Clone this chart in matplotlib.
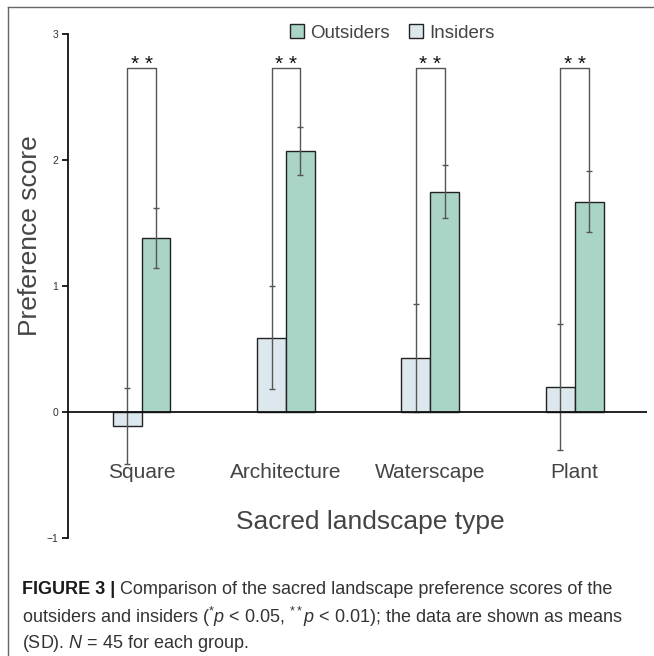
import matplotlib.pyplot as plt
from matplotlib.lines import Line2D
from matplotlib.patches import Patch

plt.rcParams['font.family'] = ['Liberation Sans', 'DejaVu Sans']
plt.rcParams['mathtext.fontset'] = 'custom'
plt.rcParams['mathtext.rm'] = 'Liberation Sans'
plt.rcParams['mathtext.it'] = 'Liberation Sans:italic'
plt.rcParams['mathtext.bf'] = 'Liberation Sans:bold'

categories = ['Square', 'Architecture', 'Waterscape', 'Plant']
outsiders_mean = [1.38, 2.07, 1.75, 1.67]
outsiders_sd = [0.24, 0.19, 0.21, 0.245]
insiders_mean = [-0.11, 0.59, 0.43, 0.20]
insiders_sd = [0.30, 0.41, 0.43, 0.50]
signif = ['* *', '* *', '* *', '* *']
bracket_y = 2.73

fig = plt.figure(figsize=(6.54, 6.56), dpi=100)
ax = fig.add_axes([0.104, 0.180, 0.885, 0.768])

w = 0.2
xs = list(range(len(categories)))
x_in = [x - w / 2 for x in xs]
x_out = [x + w / 2 for x in xs]

green = '#a9d4c6'
blue = '#dde7ee'
err_kw = dict(ecolor='#555555', elinewidth=1, capsize=2, capthick=1)

ax.bar(x_in, insiders_mean, w, color=blue, edgecolor='#222222', linewidth=1, zorder=2)
ax.bar(x_out, outsiders_mean, w, color=green, edgecolor='#222222', linewidth=1, zorder=2)
ax.errorbar(x_in, insiders_mean, yerr=insiders_sd, fmt='none', zorder=3, **err_kw)
ax.errorbar(x_out, outsiders_mean, yerr=outsiders_sd, fmt='none', zorder=3, **err_kw)

# significance brackets
for xi, xo, mi, si, mo, so, s in zip(x_in, x_out, insiders_mean, insiders_sd,
                                      outsiders_mean, outsiders_sd, signif):
    ax.plot([xi, xi, xo, xo], [mi + si, bracket_y, bracket_y, mo + so],
            color='#555555', lw=1, zorder=3)
    ax.text((xi + xo) / 2, bracket_y - 0.015, s, ha='center', va='baseline',
            fontsize=15, color='#111111')

ax.axhline(0, color='#111111', lw=1.3, zorder=4)

for x, c in zip(xs, categories):
    ax.text(x, -0.48, c, ha='center', va='center', fontsize=15, color='#444444')

ax.set_xlim(-0.51, 3.5)
ax.set_ylim(-1, 3)
ax.set_yticks([-1, 0, 1, 2, 3])
ax.set_yticklabels(['\u22121', '0', '1', '2', '3'])
ax.set_xticks([])
ax.tick_params(axis='y', length=4, width=1.2, labelsize=7.5, labelcolor='#333333', pad=3)
for sp in ['top', 'right', 'bottom']:
    ax.spines[sp].set_visible(False)
ax.spines['left'].set_linewidth(1.3)
ax.spines['left'].set_color('#111111')

ax.set_ylabel('Preference score', fontsize=19, color='#444444')
ax.yaxis.set_label_coords(-0.045, 0.6)
ax.set_xlabel('Sacred landscape type', fontsize=19, color='#444444')
ax.xaxis.set_label_coords(0.523, 0.032)
ax.xaxis.label.set_va('center')

handles = [Patch(facecolor=green, edgecolor='#222222', linewidth=1),
           Patch(facecolor=blue, edgecolor='#222222', linewidth=1)]
fig.legend(handles, ['Outsiders', 'Insiders'], loc='center', bbox_to_anchor=(0.6, 0.95),
           ncol=2, frameon=False, fontsize=13.5, handlelength=0.75, handleheight=0.75,
           handletextpad=0.35, columnspacing=1.0, labelcolor='#444444')

# frame lines along top and left edge
fig.add_artist(Line2D([8 / 654, 1], [1 - 7 / 656, 1 - 7 / 656], color='#666666', lw=1))
fig.add_artist(Line2D([8 / 654, 8 / 654], [0, 1 - 7 / 656], color='#666666', lw=1))

# caption
cap_x = 22 / 654
cap_y = [1 - (590 + 27 * i) / 656 for i in range(3)]
head = fig.text(cap_x, cap_y[0], 'FIGURE 3 |', ha='left', va='center', fontsize=13,
                fontweight='bold', color='#1a1a1a')
renderer = fig.canvas.get_renderer()
head_w = head.get_window_extent(renderer).width / fig.bbox.width
cap_lines = [
    'Comparison of the sacred landscape preference scores of the',
    r'outsiders and insiders ($^{*}\mathit{p}$ < 0.05, $^{**}\mathit{p}$ < 0.01); the data are shown as means',
    r'(SD). $\mathit{N}$ = 45 for each group.',
]
fig.text(cap_x + head_w + 5 / 654, cap_y[0], cap_lines[0], ha='left', va='center',
         fontsize=13, color='#333333')
for y, line in zip(cap_y[1:], cap_lines[1:]):
    fig.text(cap_x, y, line, ha='left', va='center', fontsize=13, color='#333333')

fig.savefig('out.png', dpi=100)
